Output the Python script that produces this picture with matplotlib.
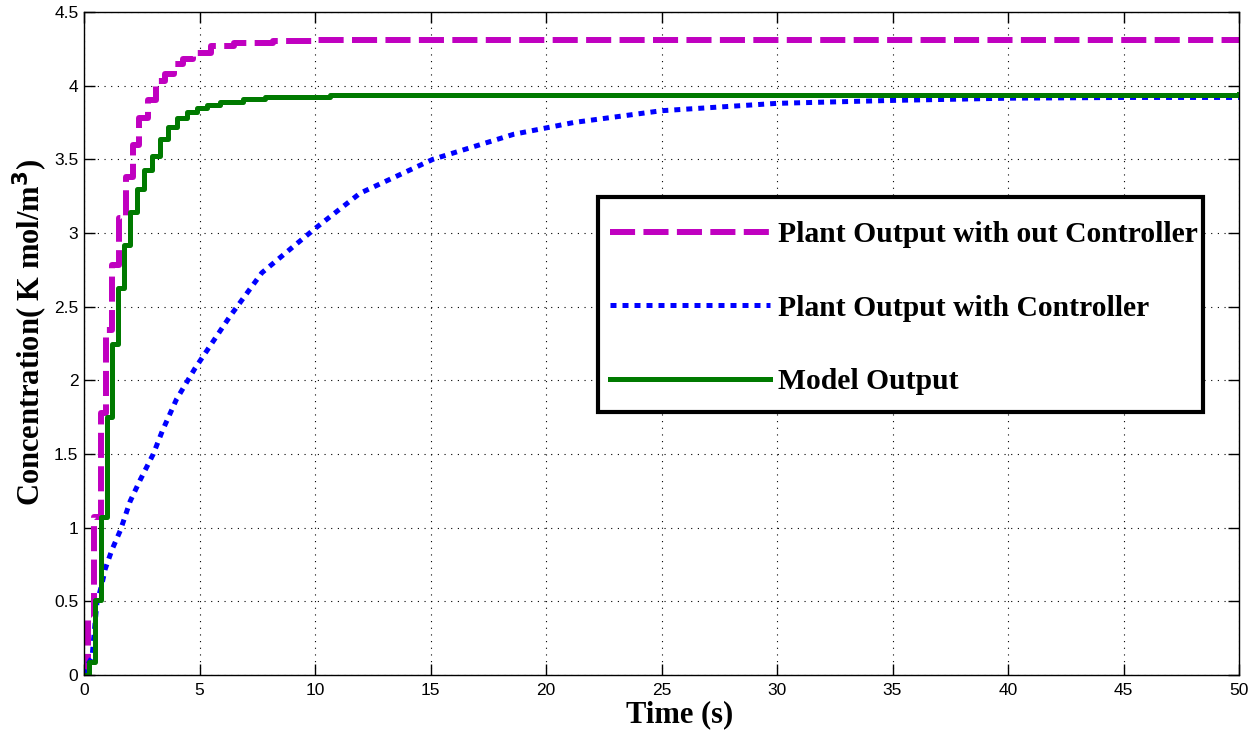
import matplotlib
matplotlib.use("Agg")
import matplotlib.pyplot as plt
from matplotlib.patches import Rectangle

# ---- data ----
# Plant output without controller (staircase), value holds from t until next t
t_open = [0, 0.19, 0.43, 0.73, 0.95, 1.23, 1.52, 1.8, 2.1, 2.4, 2.75, 3.1, 3.5, 3.9,
          4.3, 4.7, 5.5, 6.5, 8.2, 10, 50]
y_open = [0, 0.39, 1.07, 1.78, 2.34, 2.78, 3.1, 3.38, 3.6, 3.78, 3.90, 4.03, 4.08, 4.15,
          4.18, 4.22, 4.27, 4.29, 4.30, 4.31, 4.31]

# Plant output with controller
t_ctrl = [0, 0.1, 0.2, 0.35, 0.42, 0.49, 0.56, 0.78, 0.92, 1.21, 1.57, 2.0, 2.42, 3.0,
          3.4, 4.0, 4.8, 6.3, 7.7, 9.0, 10.0, 11.95, 15.1, 18.6, 21.2, 25, 30, 35, 40,
          45, 50]
y_ctrl = [0, 0.05, 0.08, 0.12, 0.25, 0.37, 0.49, 0.62, 0.72, 0.85, 0.98, 1.18, 1.32, 1.5,
          1.66, 1.87, 2.08, 2.43, 2.73, 2.9, 3.03, 3.27, 3.5, 3.67, 3.75, 3.83, 3.88, 3.9,
          3.915, 3.92, 3.92]

# Model output (staircase)
t_model = [0, 0.2, 0.48, 0.73, 0.98, 1.23, 1.49, 1.75, 2.0, 2.3, 2.6, 2.93, 3.29, 3.65,
           4.01, 4.44, 4.88, 5.31, 5.89, 6.9, 7.84, 10.65, 50]
y_model = [0, 0.09, 0.51, 1.07, 1.75, 2.25, 2.63, 2.92, 3.14, 3.30, 3.43, 3.52, 3.64, 3.72,
           3.78, 3.82, 3.85, 3.87, 3.89, 3.91, 3.92, 3.94, 3.945]

labels = ["Plant Output with out Controller", "Plant Output with Controller", "Model Output"]
xticks = [0, 5, 10, 15, 20, 25, 30, 35, 40, 45, 50]
yticks = [0, 0.5, 1, 1.5, 2, 2.5, 3, 3.5, 4, 4.5]
ytick_labels = ["0", "0.5", "1", "1.5", "2", "2.5", "3", "3.5", "4", "4.5"]

# ---- figure ----
W, H = 1256, 730
AX_L, AX_R, AX_T, AX_B = 84, 1239, 12, 675
fig = plt.figure(figsize=(W / 100, H / 100), dpi=100)
ax = fig.add_axes([AX_L / W, 1 - AX_B / H, (AX_R - AX_L) / W, (AX_B - AX_T) / H])


def ax_x(px):
    return (px - AX_L) / (AX_R - AX_L)


def ax_y(py):
    return (AX_B - py) / (AX_B - AX_T)


ax.step(t_open, y_open, where="post", color="#c000c0", lw=4.3,
        linestyle=(0, (4.2, 1.4)), label=labels[0])
ax.plot(t_ctrl, y_ctrl, color="#0000ff", lw=3.6,
        linestyle=(0, (1.2, 1.2)), label=labels[1])
ax.step(t_model, y_model, where="post", color="#007a00", lw=3.6,
        label=labels[2])

ax.set_xlim(0, 50)
ax.set_ylim(0, 4.5)
ax.set_xticks(xticks)
ax.set_yticks(yticks)
ax.set_yticklabels(ytick_labels)
for lab in ax.get_xticklabels() + ax.get_yticklabels():
    lab.set_fontfamily("Liberation Sans")
    lab.set_fontsize(12.5)
ax.tick_params(direction="in", length=8, width=1, top=True, right=True)
ax.tick_params(axis="y", pad=4)
ax.tick_params(axis="x", pad=6)
for s in ax.spines.values():
    s.set_linewidth(1.0)

ax.grid(True, color="black", linestyle=(0, (1, 5)), linewidth=0.8)

label_font = dict(family="Liberation Serif", weight="bold", size=22)
ax.set_xlabel("Time (s)", fontdict=label_font)
ax.xaxis.set_label_coords(ax_x(680), ax_y(700))
ax.xaxis.label.set_verticalalignment("top")
ax.set_ylabel("Concentration( K mol/m$^{\\mathbf{3}}$)", fontdict=label_font)
ax.yaxis.set_label_coords(ax_x(50), ax_y(332))

# legend frame drawn as a rectangle, entries placed inside it
ax.add_patch(Rectangle((ax_x(598), ax_y(412)), ax_x(1203) - ax_x(598),
                       ax_y(197) - ax_y(412), transform=ax.transAxes,
                       facecolor="white", edgecolor="black", lw=3, zorder=4))
leg = ax.legend(loc="upper left", bbox_to_anchor=(ax_x(586), ax_y(197)), borderaxespad=0,
                prop=dict(family="Liberation Serif", weight="bold", size=21.3),
                handlelength=5.4, handletextpad=0.28, labelspacing=1.57,
                borderpad=0.82, frameon=False)
leg.set_zorder(5)

fig.savefig("out.png", dpi=100)
